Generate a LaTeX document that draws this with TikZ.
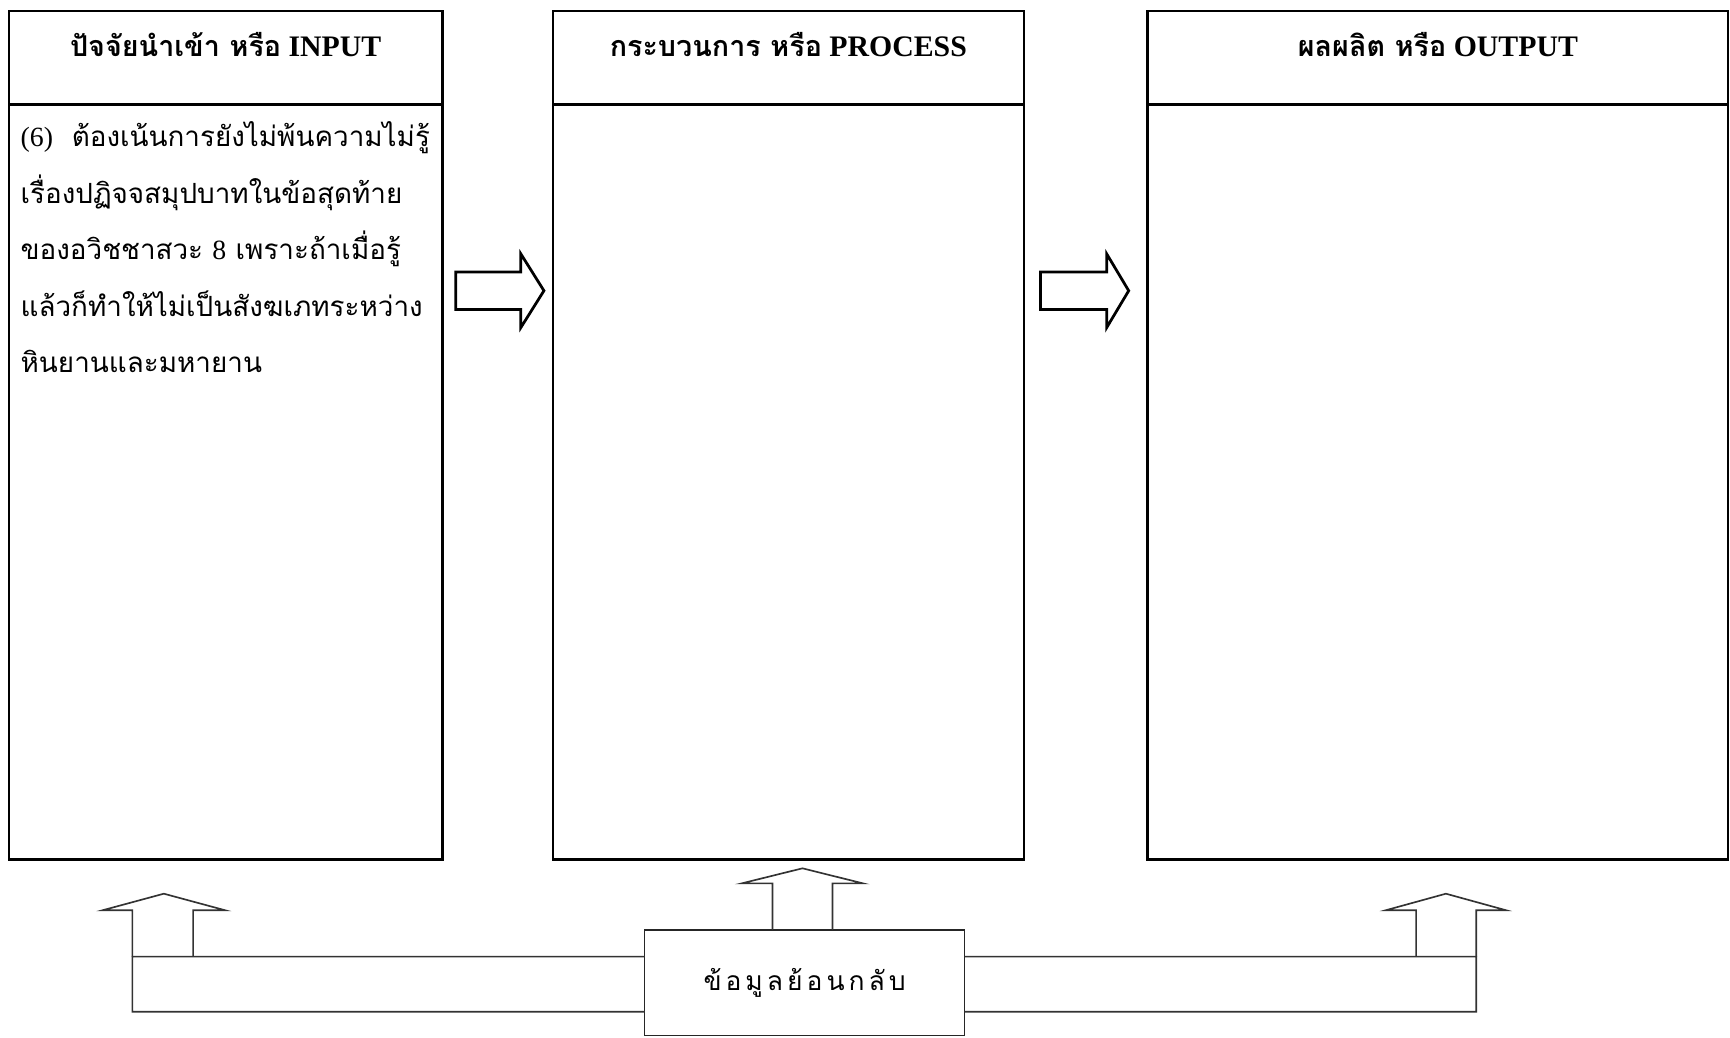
\documentclass[tikz,border=0pt]{standalone}
\usepackage{fontspec}
\setmainfont{Liberation Serif}
\newfontfamily\thaifont[Script=Thai]{Loma}
\newfontfamily\thaispaced[Script=Thai,LetterSpace=15]{Loma}
\usetikzlibrary{positioning}
\usetikzlibrary{calc}

\begin{document}
\begin{tikzpicture}
	[x=1pt, y=-1pt,
	line join=miter]

\tikzstyle{box}=[draw, line width=2pt, anchor=north west, inner sep=0pt, outer sep=0pt]
\tikzstyle{title}=[font=\fontsize{27}{30}\selectfont\bfseries, inner sep=0pt]
\tikzstyle{body}=[font=\thaifont\fontsize{25.2}{51.3}\selectfont, align=left, inner sep=0pt]
\tikzstyle{flow arrow}=[draw, line width=2.5pt, fill=white]
\tikzstyle{feedback}=[draw=black!80, line width=1.5pt]

\def\HeadHeight{85pt}
\def\BodyHeight{684pt}

\useasboundingbox (0,0) rectangle (1568,940);

% Input column
\node (inhead) [box, minimum width=393pt, minimum height=\HeadHeight] at (8,10) {};
\node (inbody) [box, minimum width=393pt, minimum height=\BodyHeight] at (inhead.south west) {};
\draw[line width=2.8pt] (inhead.south west) -- (inhead.south east);
\node (intitle) [title, below=41pt of inhead.north, anchor=base]
	{{\thaifont\fontsize{26}{30}\selectfont ปัจจัยนำเข้า หรือ} INPUT};
% base of a multi-line node is its last line
\node (intext) [body, below right=243pt and 10.5pt of inbody.north west, anchor=base west]
	{{\rmfamily (6)}\ \ ต้องเน้นการยังไม่พ้นความไม่รู้\\
	เรื่องปฏิจจสมุปบาทในข้อสุดท้าย\\
	ของอวิชชาสวะ {\rmfamily 8} เพราะถ้าเมื่อรู้\\
	แล้วก็ทำให้ไม่เป็นสังฆเภทระหว่าง\\
	หินยานและมหายาน};

% Process column
\node (prochead) [box, minimum width=427pt, minimum height=\HeadHeight] at (501,10) {};
\node (procbody) [box, minimum width=427pt, minimum height=\BodyHeight] at (prochead.south west) {};
\draw[line width=2.8pt] (prochead.south west) -- (prochead.south east);
\node (proctitle) [title, below=41pt of prochead.north, anchor=base]
	{{\thaifont\fontsize{26}{30}\selectfont กระบวนการ หรือ} PROCESS};

% Output column
\node (outhead) [box, minimum width=526.5pt, minimum height=\HeadHeight] at (1040,10) {};
\node (outbody) [box, minimum width=526.5pt, minimum height=\BodyHeight] at (outhead.south west) {};
\draw[line width=2.8pt] (outhead.south west) -- (outhead.south east);
\node (outtitle) [title, below=41pt of outhead.north, anchor=base]
	{{\thaifont\fontsize{26}{30}\selectfont ผลผลิต หรือ} OUTPUT};

% Flow arrows between the columns
\draw[flow arrow]
	($(inbody.north east)+(12,151.5)$) -- ++(59,0) -- ++(0,-16.5) --
	++(21,33.5) -- ++(-21,33.5) -- ++(0,-16.5) -- ++(-59,0) -- cycle;
\draw[flow arrow]
	($(procbody.north east)+(15,151.5)$) -- ++(60,0) -- ++(0,-16.5) --
	++(20,33.5) -- ++(-20,33.5) -- ++(0,-16.5) -- ++(-60,0) -- cycle;

% Feedback box
\node (fb) [draw=black!85, line width=1.5pt, outer sep=0pt,
	minimum width=290pt, minimum height=95.5pt,
	font=\thaispaced\fontsize{24}{28}\selectfont] at (729.2,890.8) {ข้อมูลย้อนกลับ};

% Feedback channel, left branch
\draw[feedback]
	($(fb.north west)+(0,24)$) -- (120,867) -- (120,917) --
	($(fb.south west)+(0,-21.5)$);
\draw[feedback]
	(120,867) -- (120,825) -- (93,825) -- (148.5,810) -- (204,825) --
	(175,825) -- (175,867);

% Feedback channel, right branch
\draw[feedback]
	($(fb.north east)+(0,24)$) -- (1338,867) -- (1338,917) --
	($(fb.south east)+(0,-21.5)$);
\draw[feedback]
	(1283.5,867) -- (1283.5,825) -- (1256,825) -- (1310.5,810) --
	(1365,825) -- (1338,825) -- (1338,867);

% Feedback up into the process column
\draw[feedback]
	($(fb.north)+(-29,0)$) -- ++(0,-42.4) -- ++(-28,0) --
	(727.3,787) -- (782,800.6) -- ++(-27.5,0) --
	($(fb.north)+(25.3,0)$);

\end{tikzpicture}
\end{document}
